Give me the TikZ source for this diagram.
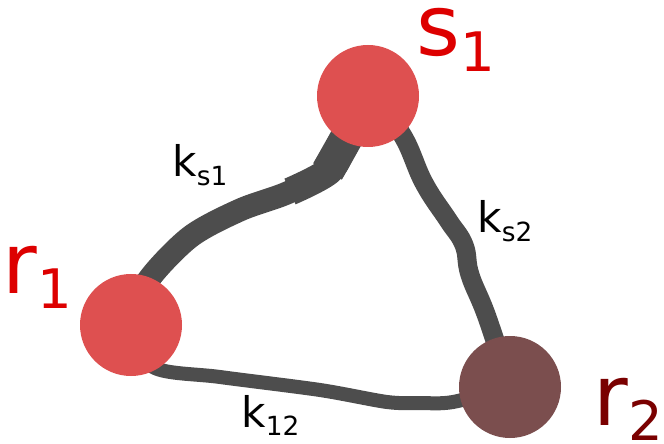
\documentclass[tikz,border=0pt]{standalone}
\usepackage{fontspec}
\setmainfont{DejaVu Sans}
\usetikzlibrary{backgrounds}
\definecolor{nodered}{HTML}{DE5050}
\definecolor{nodebrown}{HTML}{7B4E4E}
\definecolor{lblred}{HTML}{DD0000}
\definecolor{lbldark}{HTML}{7A0000}
\definecolor{edgegray}{HTML}{4D4D4D}
\newcommand{\nodelbl}[2]{#1\raisebox{-9pt}{\fontsize{31}{31}\selectfont #2}}
\newcommand{\edgelbl}[1]{k\raisebox{-5pt}{\fontsize{15}{15}\selectfont #1}}
\tikzset{
    site/.style={circle, draw=none, minimum size=2.04cm, inner sep=0pt},
    sitelbl/.style={anchor=base west, inner sep=0pt, text height=0.6em, text depth=0pt, font=\fontsize{48}{48}\selectfont},
    ratelbl/.style={anchor=base west, inner sep=0pt, font=\fontsize{24}{24}\selectfont},
    link/.style={draw=edgegray, line cap=round, line join=round}
}

\begin{document}
\begin{tikzpicture}
    \useasboundingbox (0,0) rectangle (13.28,8.86);
    \node[site, fill=nodered] (s1) at (7.36,6.94) {};
    \node[site, fill=nodered] (r1) at (2.62,2.36) {};
    \node[site, fill=nodebrown] (r2) at (10.2,1.12) {};

    \begin{scope}[on background layer]
        % k_s1 gets wider towards s1
        \draw[link, line width=0.46cm] plot[smooth, tension=0.5] coordinates {(r1.center) (2.94,3.22) (3.8,4.12) (4.8,4.66) (5.74,5.0) (6.6,5.46) (6.96,6.16) (s1.center)};
        \coordinate (mid) at (5.8,5.03);
        \coordinate (upper) at (6.55,5.43);
        \draw[link, line cap=butt, line width=0.56cm] plot[smooth, tension=0.5] coordinates {(mid) (6.6,5.46) (6.96,6.16) (s1.center)};
        \draw[link, line cap=butt, line width=0.66cm] plot[smooth, tension=0.5] coordinates {(upper) (6.96,6.16) (s1.center)};
        \draw[link, line width=0.38cm] plot[smooth, tension=0.7] coordinates {(s1.center) (8.02,6.2) (8.48,5.2) (8.96,4.46) (9.28,3.96) (9.4,3.36) (9.74,2.52) (r2.center)};
        \draw[link, line width=0.28cm] plot[smooth, tension=0.5] coordinates {(r1.center) (3.06,1.52) (4.4,1.32) (6.4,1.06) (7.74,0.82) (8.4,0.80) (9.06,0.82) (r2.center)};
    \end{scope}

    \node[sitelbl, text=lblred] (s1lbl) at (8.32,7.74) {\nodelbl{s}{1}};
    \node[sitelbl, text=lblred] (r1lbl) at (0.04,3.0) {\nodelbl{r}{1}};
    \node[sitelbl, text=lbldark] (r2lbl) at (11.86,0.36) {\nodelbl{r}{2}};

    \node[ratelbl] (ks1) at (3.44,5.32) {\edgelbl{s1}};
    \node[ratelbl] (ks2) at (9.54,4.2) {\edgelbl{s2}};
    \node[ratelbl] (k12) at (4.82,0.32) {\edgelbl{12}};
\end{tikzpicture}
\end{document}
